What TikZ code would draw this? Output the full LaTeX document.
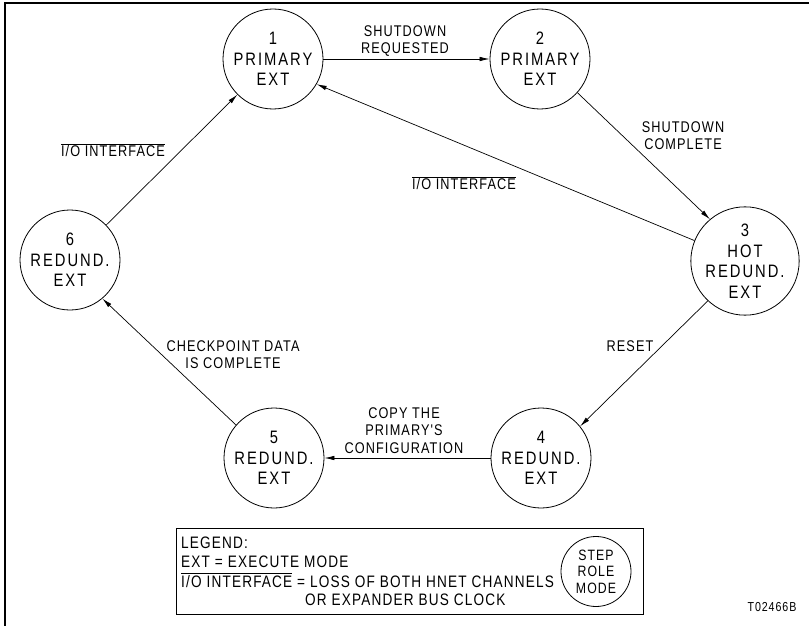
\documentclass[tikz,border=0pt]{standalone}
\usepackage{fontspec}
\setmainfont{Liberation Sans}
\newfontfamily\circfont[FakeStretch=0.82,LetterSpace=11]{Liberation Sans}
\newfontfamily\labfont[FakeStretch=0.82,LetterSpace=7]{Liberation Sans}
\usetikzlibrary{arrows.meta}
\newcommand{\ovl}[1]{$\overline{\mbox{#1}}$}
\begin{document}
\begin{tikzpicture}[x=1pt,y=-1pt,
  state/.style={circle,draw,line width=0.8pt,minimum size=100pt,inner sep=0pt,align=center,
    font=\circfont\fontsize{18}{20.5}\selectfont},
  lab/.style={align=center,inner sep=0pt,font=\labfont\fontsize{15.5}{17.5}\selectfont},
  legtext/.style={anchor=base west,inner sep=0pt,font=\labfont\fontsize{16.6}{18}\selectfont},
  conn/.style={line width=0.7pt,-{Latex[length=10pt,width=4.5pt]}}]
\useasboundingbox (0,0) rectangle (809,626);
\draw[line width=1.2pt] (5,626) -- (5,3) -- (809,3);

\node[state] (n1) at (273,59) {1\\PRIMARY\\EXT};
\node[state] (n2) at (540,59) {2\\PRIMARY\\EXT};
\node[state] (n3) at (745,261) {3\\HOT\\REDUND.\\EXT};
\node[state] (n4) at (541,458) {4\\REDUND.\\EXT};
\node[state] (n5) at (274,458) {5\\REDUND.\\EXT};
\node[state] (n6) at (70,260) {6\\REDUND.\\EXT};

\draw[conn] (n1.east) -- (n2.west);
\draw[conn] (n2.-42) -- (n3.130);
\draw[conn] (n3.158) -- (n1.-30);
\draw[conn] (n3.227) -- (n4.39);
\draw[conn] (n4.west) -- (n5.east);
\draw[conn] (n5.139) -- (n6.-50);
\draw[conn] (n6.44) -- (n1.225);

\node[lab] (l12) at (405,41) {SHUTDOWN\\REQUESTED};
\node[lab] (l23) at (683,135.5) {SHUTDOWN\\COMPLETE};
\node[lab] (l31) at (464,183) {\ovl{I/O INTERFACE}};
\node[lab] (l61) at (113,150) {\ovl{I/O INTERFACE}};
\node[lab] (l56) at (233,354.5) {CHECKPOINT DATA\\IS COMPLETE};
\node[lab] (l34) at (630,346) {RESET};
\node[lab] (l45) at (404,430.5) {COPY THE\\PRIMARY'S\\CONFIGURATION};

\node[draw,line width=0.8pt,minimum width=467pt,minimum height=86pt,inner sep=0pt] (legend) at (409.5,571) {};
\node[circle,draw,line width=0.8pt,minimum size=70pt,inner sep=0pt,align=center,
  font=\labfont\fontsize{15}{16.5}\selectfont] (legcirc) at (596,571.5) {STEP\\ROLE\\MODE};
\node[legtext] (lg1) at (181,548) {LEGEND:};
\node[legtext] (lg2) at (181,567) {EXT = EXECUTE MODE};
\node[legtext] (lg3) at (181,587) {\ovl{I/O INTERFACE} = LOSS OF BOTH HNET CHANNELS};
\node[legtext] (lg4) at (305,605) {OR EXPANDER BUS CLOCK};
\node[inner sep=0pt,font=\labfont\fontsize{13}{15}\selectfont] (tag) at (772,607) {T02466B};
\end{tikzpicture}
\end{document}
